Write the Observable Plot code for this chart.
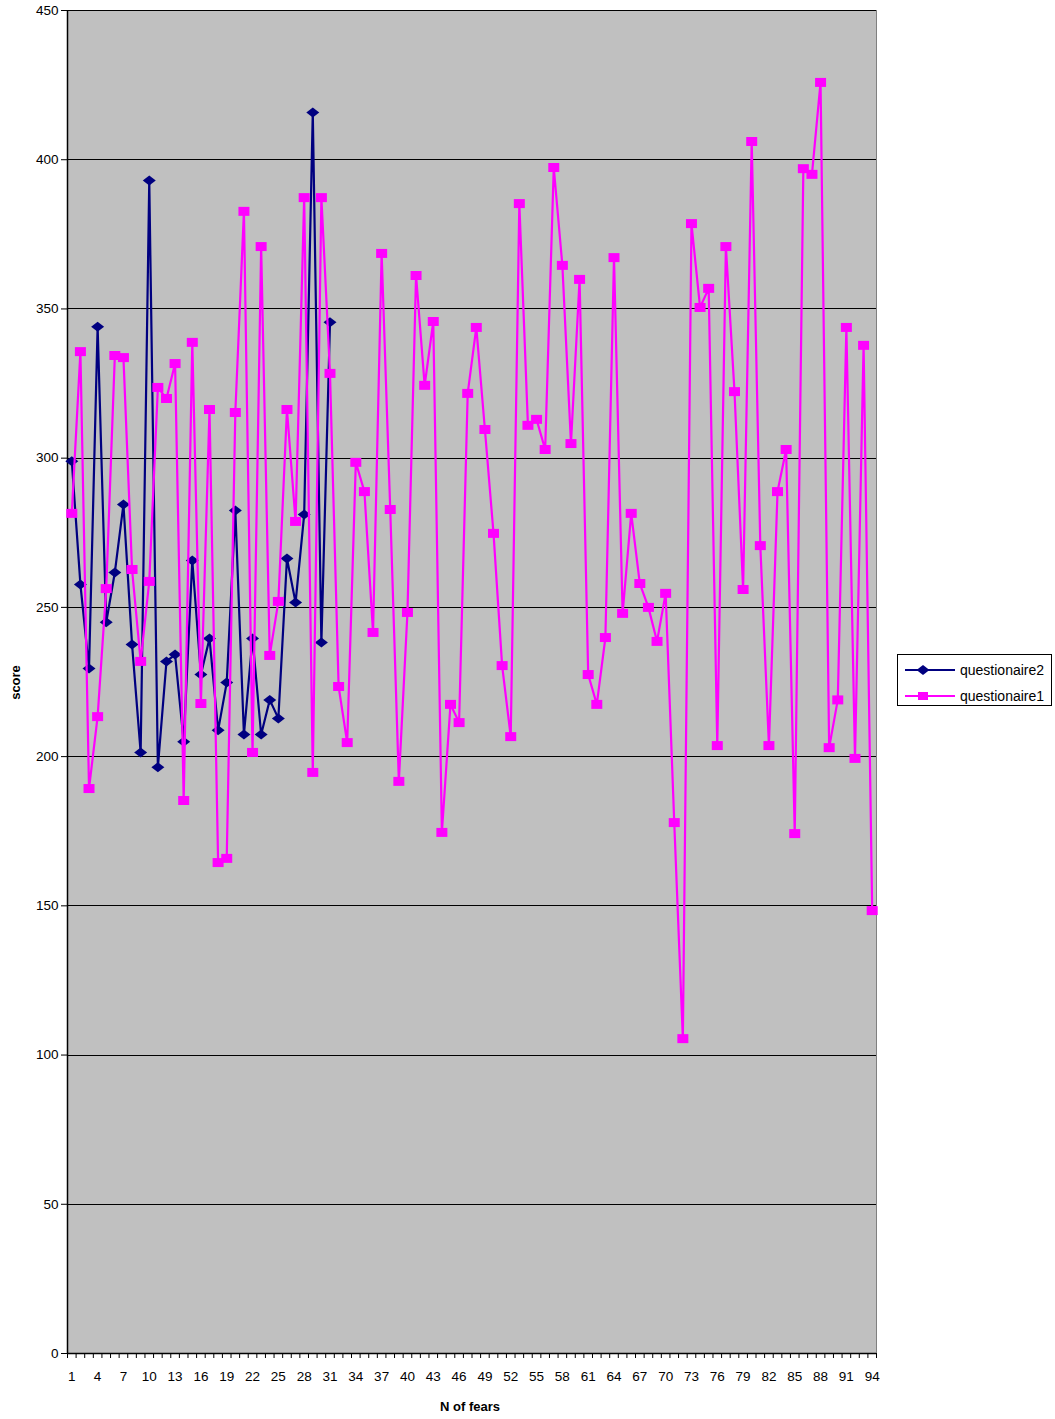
<!DOCTYPE html>
<html><head><meta charset="utf-8">
<script src="https://cdn.jsdelivr.net/npm/d3@7"></script>
<script src="https://cdn.jsdelivr.net/npm/@observablehq/plot@0.6"></script>
<style>
body{margin:0;background:#fff;font-family:"Liberation Sans",Arial,sans-serif;}
#chart{position:relative;width:1055px;height:1419px;}
#chart svg{display:block;}
.lbl{position:absolute;font-weight:bold;font-size:13px;color:#000;white-space:nowrap;}
#legend{position:absolute;left:897px;top:654px;width:155px;height:52px;border:1px solid #000;background:#fff;box-sizing:border-box;}
#legend .row{position:absolute;left:0;height:20px;display:flex;align-items:center;font-size:14px;}
</style></head><body><div id="chart"></div>
<script>
// N of fears (category index = position + 1)
const questionaire1 = [281.5,335.7,189.3,213.4,256.3,334.4,333.7,262.7,231.9,258.7,
  323.7,320,331.7,185.3,338.8,217.8,316.3,164.5,165.9,315.3,
  382.7,201.4,370.9,233.9,252,316.3,278.8,387.3,194.7,387.3,
  328.4,223.5,204.7,298.6,288.8,241.6,368.6,282.8,191.7,248.3,
  361.2,324.4,345.8,174.6,217.5,211.4,321.7,343.8,309.6,274.8,
  230.5,206.7,385.3,311,313,302.9,397.4,364.6,304.9,359.9,
  227.5,217.5,239.9,367.2,248,281.5,258,250,238.6,254.7,
  177.9,105.5,378.6,350.5,356.9,203.7,370.9,322.3,256,406.1,
  270.7,203.7,288.8,302.9,174.2,397,395.1,425.9,203,219,
  343.8,199.4,337.8,148.4];
const questionaire2 = [299,257.7,229.5,344,245,261.7,284.5,237.6,201.4,393,
  196.4,231.9,234.2,205,265.7,227.5,239.6,208.8,224.8,282.5,
  207.4,239.6,207.4,219,212.8,266.4,251.6,281.1,415.8,238.2,
  345.5];
const xTickLabels = [1,4,7,10,13,16,19,22,25,28,31,34,37,40,43,46,49,52,55,58,61,64,67,70,73,76,79,82,85,88,91,94];
const yTicks = [0,50,100,150,200,250,300,350,400,450];
const seriesNames = ["questionaire2","questionaire1"];
const seriesColors = ["#000080","#ff00ff"];

const nCat = questionaire1.length;
const rows1 = questionaire1.map((v,i)=>({n:i+1, score:v}));
const rows2 = questionaire2.map((v,i)=>({n:i+1, score:v}));
const catBounds = Array.from({length:nCat+1},(_,k)=>k+0.5);

const squareSym = {draw(ctx){const w=5.5,h=4.5;ctx.moveTo(-w,-h);ctx.lineTo(w,-h);ctx.lineTo(w,h);ctx.lineTo(-w,h);ctx.closePath();}};
const diamondSym = {draw(ctx){const w=6.5,h=5;ctx.moveTo(0,-h);ctx.lineTo(w,0);ctx.lineTo(0,h);ctx.lineTo(-w,0);ctx.closePath();}};

const chart = Plot.plot({
  width:1055, height:1419,
  marginLeft:67, marginRight:179, marginTop:10, marginBottom:66,
  style:{fontFamily:"'Liberation Sans',Arial,sans-serif", fontSize:"13.5px", color:"#000", background:"#fff"},
  x:{type:"linear", domain:[0.5, nCat+0.5]},
  y:{domain:[0,450]},
  marks:[
    Plot.frame({fill:"#c0c0c0", stroke:"#808080"}),
    Plot.ruleY(yTicks.filter(d=>d>0), {stroke:"#000", strokeWidth:1, shapeRendering:"crispEdges"}),
    Plot.axisY({ticks:yTicks, tickSize:6, tickPadding:3, label:null, fontSize:13.5}),
    Plot.axisX({ticks:catBounds, tickSize:5, tickFormat:()=>"", label:null}),
    Plot.axisX({ticks:xTickLabels, tickSize:0, tickPadding:18, label:null, fontSize:13.5, tickFormat:d=>String(d)}),
    Plot.ruleX([0.5], {stroke:"#000", strokeWidth:1.5}),
    Plot.ruleY([0], {stroke:"#000", strokeWidth:1.5}),
    Plot.line(rows2, {x:"n", y:"score", stroke:seriesColors[0], strokeWidth:2.2}),
    Plot.dot(rows2, {x:"n", y:"score", symbol:diamondSym, fill:seriesColors[0], stroke:"none"}),
    Plot.line(rows1, {x:"n", y:"score", stroke:seriesColors[1], strokeWidth:2.2}),
    Plot.dot(rows1, {x:"n", y:"score", symbol:squareSym, fill:seriesColors[1], stroke:"none"})
  ]
});
const root = document.getElementById("chart");
root.appendChild(chart);

const xl = document.createElement("div");
xl.className="lbl"; xl.textContent="N of fears";
xl.style.left="440px"; xl.style.top="1399px";
root.appendChild(xl);
const yl = document.createElement("div");
yl.className="lbl"; yl.textContent="score";
yl.style.left="-2px"; yl.style.top="675px"; yl.style.transform="rotate(-90deg)";
root.appendChild(yl);

const legend = document.createElement("div");
legend.id="legend";
const syms = ["diamond","square"];
seriesNames.forEach((name,i)=>{
  const row=document.createElement("div");
  row.className="row"; row.style.top=(i===0?5:31)+"px";
  const marker = syms[i]==="diamond"
    ? `<polygon points="25,4 31.5,9 25,14 18.5,9" fill="${seriesColors[i]}"/>`
    : `<rect x="20" y="5" width="10" height="8" fill="${seriesColors[i]}"/>`;
  row.innerHTML = `<svg width="62" height="18" style="display:block"><line x1="7" x2="57" y1="9" y2="9" stroke="${seriesColors[i]}" stroke-width="2"/>${marker}</svg><span>${name}</span>`;
  legend.appendChild(row);
});
root.appendChild(legend);
</script></body></html>
